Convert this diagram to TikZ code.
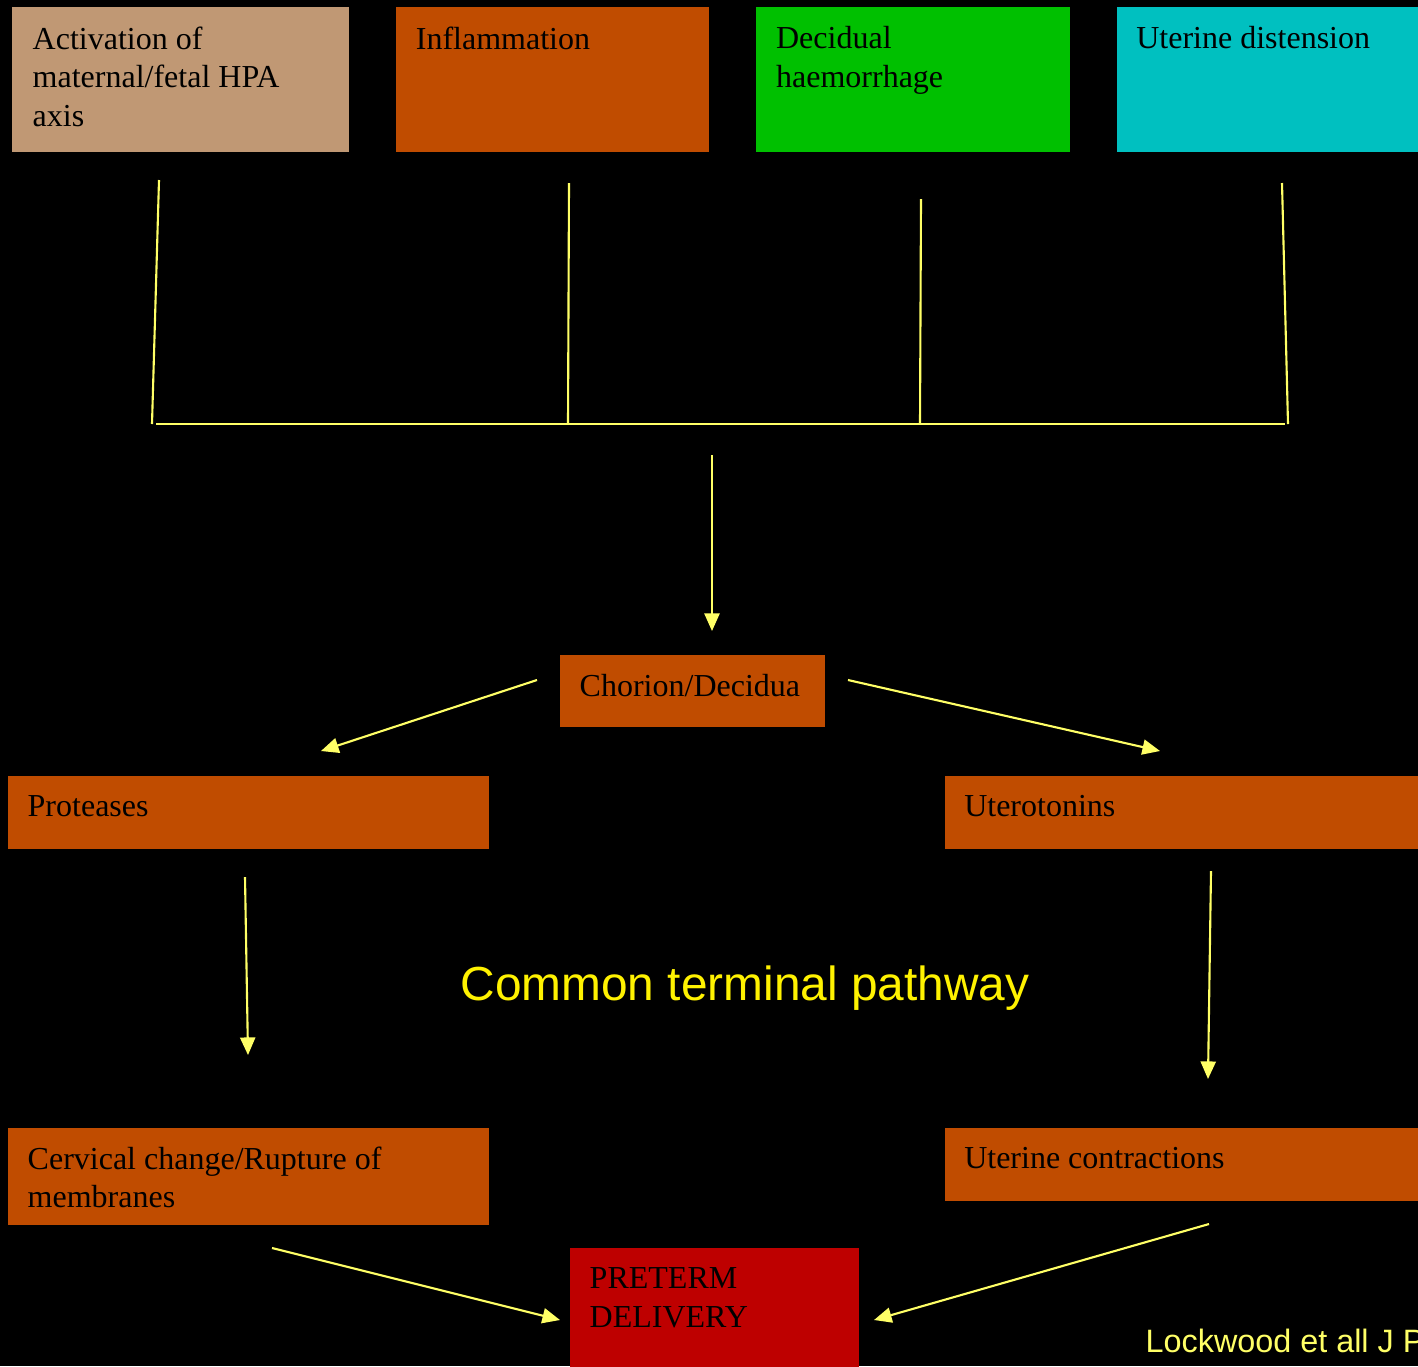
\documentclass[tikz,border=0pt]{standalone}
\usepackage{fontspec}
\setmainfont{Liberation Serif}
\setsansfont{Liberation Sans}
\usetikzlibrary{positioning}
\usetikzlibrary{arrows.meta}
\definecolor{tanbox}{HTML}{C09874}
\definecolor{rust}{HTML}{C04C00}
\definecolor{greenbox}{HTML}{00C000}
\definecolor{cyanbox}{HTML}{00C0C0}
\definecolor{redbox}{HTML}{BE0000}
\definecolor{lineyel}{HTML}{FFFF66}

\begin{document}
\begin{tikzpicture}[
x=0.01cm, y=-0.01cm,
box/.style={rectangle, inner sep=0, outer sep=0},
txt/.style={inner sep=0, anchor=north west, align=left, font=\fontsize{9.1}{10.95}\selectfont},
link/.style={draw=lineyel, line width=0.6pt},
arr/.style={link, -{Triangle[length=5pt, width=4.3pt]}}
]
\fill[black] (0,0) rectangle (1418,1366);
\useasboundingbox (0,0) rectangle (1418,1366);

% causes
\node[box, fill=tanbox, minimum width=3.37cm, minimum height=1.45cm, anchor=north west] (act) at (12,7) {};
\node[box, fill=rust, minimum width=3.13cm, minimum height=1.45cm, right=0.47cm of act] (infl) {};
\node[box, fill=greenbox, minimum width=3.13cm, minimum height=1.45cm, right=0.47cm of infl] (dec) {};
\node[box, fill=cyanbox, minimum width=3.3cm, minimum height=1.45cm, right=0.47cm of dec] (dist) {};
\node[txt] (actT) at ([shift={(20,19)}]act.north west) {Activation of\\maternal/fetal HPA\\axis};
\node[txt] (inflT) at ([shift={(19,19)}]infl.north west) {Inflammation};
\node[txt] (decT) at ([shift={(19,19)}]dec.north west) {Decidual\\haemorrhage};
\node[txt] (distT) at ([shift={(19,19)}]dist.north west) {Uterine distension};

% joining lines
\coordinate (actL) at (159,180);
\coordinate (inflL) at (569,183);
\coordinate (decL) at (921,199);
\coordinate (distL) at (1282,183);
\coordinate (barL) at (152,424);
\coordinate (barA) at (568,424);
\coordinate (barB) at (920,424);
\coordinate (barR) at (1288,424);
\draw[link] (actL) -- (barL);
\draw[link] (inflL) -- (barA);
\draw[link] (decL) -- (barB);
\draw[link] (distL) -- (barR);
\draw[link] ([shift={(4,0)}]barL) -- ([shift={(-3,0)}]barR);

% common terminal pathway
\node[box, fill=rust, minimum width=2.65cm, minimum height=0.72cm, anchor=north west] (chor) at (560,655) {};
\node[box, fill=rust, minimum width=4.81cm, minimum height=0.73cm, anchor=north west] (prot) at (8,776) {};
\node[box, fill=rust, minimum width=4.8cm, minimum height=0.73cm, right=4.55cm of prot] (uter) {};
\node[box, fill=rust, minimum width=4.81cm, minimum height=0.97cm, below=2.79cm of prot] (cerv) {};
\node[box, fill=rust, minimum width=4.8cm, minimum height=0.73cm, below=2.79cm of uter] (contr) {};
\node[box, fill=redbox, minimum width=2.89cm, minimum height=1.3cm, anchor=north west] (pd) at (570,1248) {};
\node[txt] (chorT) at ([shift={(19,19)}]chor.north west) {Chorion/Decidua};
\node[txt] (protT) at ([shift={(19,19)}]prot.north west) {Proteases};
\node[txt] (uterT) at ([shift={(19,19)}]uter.north west) {Uterotonins};
\node[txt] (cervT) at ([shift={(19,18)}]cerv.north west) {Cervical change/Rupture of\\membranes};
\node[txt] (contrT) at ([shift={(19,18)}]contr.north west) {Uterine contractions};
\node[txt] (pdT) at ([shift={(19,19)}]pd.north west) {PRETERM\\DELIVERY};

\node[anchor=base, inner sep=0, text=yellow, font=\sffamily\fontsize{13.6}{16}\selectfont] (ctp) at (745,1000) {Common terminal pathway};
\node[anchor=base west, inner sep=0, text=lineyel, font=\sffamily\fontsize{9.2}{11}\selectfont] (ref) at (1145,1352) {Lockwood et all J P};

% arrows
\coordinate (downS) at (712,455);
\coordinate (downE) at (712,631);
\coordinate (chorL) at (537,680);
\coordinate (protA) at (321,751);
\coordinate (chorR) at (848,680);
\coordinate (uterA) at (1160,751);
\coordinate (protS) at (245,877);
\coordinate (cervA) at (248,1055);
\coordinate (uterS) at (1211,871);
\coordinate (contrA) at (1208,1079);
\coordinate (cervS) at (272,1248);
\coordinate (pdL) at (560,1320);
\coordinate (contrS) at (1209,1224);
\coordinate (pdR) at (874,1320);
\draw[arr] (downS) -- (downE);
\draw[arr] (chorL) -- (protA);
\draw[arr] (chorR) -- (uterA);
\draw[arr] (protS) -- (cervA);
\draw[arr] (uterS) -- (contrA);
\draw[arr] (cervS) -- (pdL);
\draw[arr] (contrS) -- (pdR);
\end{tikzpicture}
\end{document}
